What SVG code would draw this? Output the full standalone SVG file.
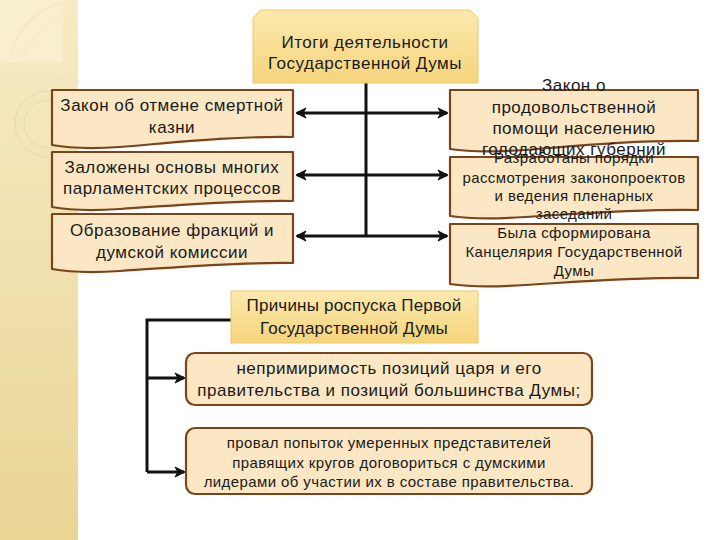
<svg xmlns="http://www.w3.org/2000/svg" width="720" height="540" viewBox="0 0 720 540">
<defs>
<linearGradient id="strip" x1="0" y1="0" x2="0" y2="1">
<stop offset="0" stop-color="#f6ebc4"/>
<stop offset="1" stop-color="#ead596"/>
</linearGradient>
<linearGradient id="gold" x1="0" y1="0" x2="0" y2="1">
<stop offset="0" stop-color="#fbe9ad"/>
<stop offset="1" stop-color="#f5d47c"/>
</linearGradient>
<marker id="ah" viewBox="0 0 12 12" refX="10" refY="6" markerWidth="12" markerHeight="12" markerUnits="userSpaceOnUse" orient="auto-start-reverse">
<path d="M1,1 L11,6 L1,11 L4,6 Z" fill="#111" stroke="#111" stroke-width="1" stroke-linejoin="round"/>
</marker>
<style>
.t{font-family:"Liberation Sans",Arial,sans-serif;fill:#1a1a1a;text-anchor:middle}
.f16{font-size:17px;letter-spacing:0.5px}
.f15{font-size:15px;letter-spacing:0.4px}
.f14{font-size:15px;letter-spacing:0.4px}
.f17{font-size:17px;letter-spacing:0.2px}
.doc{fill:#fbe7c3;stroke:#7b451b;stroke-width:2.2;stroke-linejoin:round}
.rbox{fill:#fbe7c3;stroke:#7b451b;stroke-width:2.2}
.goldbox{fill:url(#gold);stroke:#ecc86e;stroke-width:1}
.ln{stroke:#111;stroke-width:3;fill:none}
</style>
</defs>
<rect width="720" height="540" fill="#ffffff"/>
<g id="background">
<rect x="0" y="0" width="78" height="540" fill="url(#strip)"/>
<rect x="0" y="0" width="63" height="62" fill="#f8efcf"/>
<path d="M10,60 C15,30 35,10 63,2" fill="none" stroke="#f4e7c0" stroke-width="1.5"/>
<path d="M20,62 C30,40 50,20 63,15" fill="none" stroke="#f4e7c0" stroke-width="1"/>
<circle cx="48" cy="124" r="33" fill="none" stroke="#e6d8b0" stroke-width="1"/>
<circle cx="48" cy="124" r="24" fill="none" stroke="#e6d8b0" stroke-width="1"/>
<path d="M12,150 C20,90 60,70 80,82" fill="none" stroke="#efe3bd" stroke-width="1"/>
</g>
<g id="connectors">
<line class="ln" x1="366" y1="83" x2="366" y2="236"/>
<line class="ln" x1="297" y1="113" x2="447" y2="113" marker-start="url(#ah)" marker-end="url(#ah)"/>
<line class="ln" x1="297" y1="175" x2="447" y2="175" marker-start="url(#ah)" marker-end="url(#ah)"/>
<line class="ln" x1="297" y1="236" x2="447" y2="236" marker-start="url(#ah)" marker-end="url(#ah)"/>
<polyline class="ln" points="231,320 147,320 147,472"/>
<line class="ln" x1="147" y1="378" x2="184" y2="378" marker-end="url(#ah)"/>
<line class="ln" x1="147" y1="472" x2="184" y2="472" marker-end="url(#ah)"/>
</g>
<g id="n-top">
<path class="goldbox" d="M261,10 H470 L478,18 V83 H253 V18 Z"/>
<text class="t f16" x="365" y="48">Итоги деятельности</text>
<text class="t f16" x="365" y="69">Государственной Думы</text>
</g>
<g id="n-l1">
<path class="doc" d="M52,90 H293 V137 C230,136 170,143 120,147 C90,149 68,148 52,145 Z"/>
<text class="t f16" x="172" y="111">Закон об отмене смертной</text>
<text class="t f16" x="172" y="133">казни</text>
</g>
<g id="n-l2">
<path class="doc" d="M52,152 H293 V201 C230,200 170,206 120,209 C90,211 68,210 52,207 Z"/>
<text class="t f16" x="172" y="173">Заложены основы многих</text>
<text class="t f16" x="172" y="194">парламентских процессов</text>
</g>
<g id="n-l3">
<path class="doc" d="M52,214 H293 V263 C230,262 170,268 120,271 C90,273 68,272 52,269 Z"/>
<text class="t f16" x="172" y="236">Образование фракций и</text>
<text class="t f16" x="172" y="258">думской комиссии</text>
</g>
<g id="n-r1">
<path class="doc" d="M450,90 H698 V141 C635,140 575,146 525,150 C495,152 470,152 450,149 Z"/>
<text class="t f16" x="574" y="91">Закон о</text>
<text class="t f16" x="574" y="113">продовольственной</text>
<text class="t f16" x="574" y="134">помощи населению</text>
<text class="t f16" x="574" y="155">голодающих губерний</text>
</g>
<g id="n-r2">
<path class="doc" d="M450,157 H698 V210 C635,209 575,214 525,217 C495,219 470,219 450,216 Z"/>
<text class="t f14" x="574" y="163">Разработаны порядки</text>
<text class="t f14" x="574" y="183">рассмотрения законопроектов</text>
<text class="t f14" x="574" y="201">и ведения пленарных</text>
<text class="t f14" x="574" y="219">заседаний</text>
</g>
<g id="n-r3">
<path class="doc" d="M450,224 H698 V278 C635,277 575,282 525,285 C495,287 470,287 450,284 Z"/>
<text class="t f15" x="574" y="238">Была сформирована</text>
<text class="t f15" x="574" y="257">Канцелярия Государственной</text>
<text class="t f15" x="574" y="276">Думы</text>
</g>
<g id="n-reasons">
<rect class="goldbox" x="231" y="291" width="247" height="52"/>
<text class="t f17" x="354" y="311">Причины роспуска Первой</text>
<text class="t f17" x="354" y="334">Государственной Думы</text>
</g>
<g id="n-b1">
<rect class="rbox" x="186" y="353" width="406" height="52" rx="9"/>
<text class="t f16" x="389" y="374">непримиримость позиций царя и его</text>
<text class="t f16" x="389" y="396">правительства и позиций большинства Думы;</text>
</g>
<g id="n-b2">
<rect class="rbox" x="186" y="428" width="406" height="66" rx="9"/>
<text class="t f14" x="389" y="448">провал попыток умеренных представителей</text>
<text class="t f14" x="389" y="468">правящих кругов договориться с думскими</text>
<text class="t f14" x="389" y="487">лидерами об участии их в составе правительства.</text>
</g>
</svg>
